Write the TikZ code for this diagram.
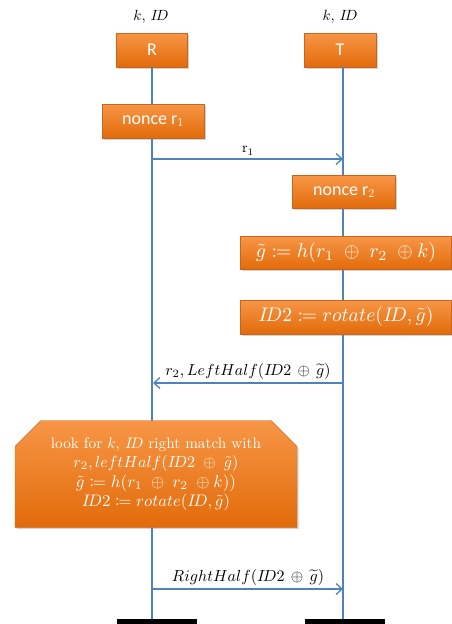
\documentclass[tikz,border=0pt]{standalone}
\usepackage{amsmath}
\usepackage{mathtools}
\usepackage{graphicx}
\usepackage{fontspec}
\setsansfont{Carlito}
\usepackage{tikz}
\usetikzlibrary{shapes.misc,arrows.meta,positioning,shadows}

\definecolor{boxtop}{RGB}{247,150,70}
\definecolor{boxbot}{RGB}{226,107,10}
\definecolor{boxedge}{RGB}{200,100,30}
\definecolor{lineblue}{RGB}{79,129,189}

% text stretched to a given width (pt)
\newcommand{\wfit}[2]{\resizebox{#1pt}{!}{#2}}

\begin{document}
\begin{tikzpicture}[x=1pt, y=-1pt,
    orangebox/.style={rectangle, draw=boxedge, top color=boxtop, bottom color=boxbot, text=white, drop shadow={opacity=0.35, shadow xshift=1.5pt, shadow yshift=-1.5pt}},
    lifeline/.style={draw=lineblue, line width=1.3pt},
    msg/.style={draw=lineblue, line width=1.3pt, -{Straight Barb[length=6pt, width=11pt]}},
    sansbig/.style={font=\sffamily\fontsize{18}{20}\selectfont}]
    \useasboundingbox (0,0) rectangle (452,624);

    % Parties
    \node (kidR) at (151,17) {\wfit{35}{$k$, $I\!D$}};
    \node (kidT) at (340,17) {\wfit{35}{$k$, $I\!D$}};
    \node (R) at (152,50) [orangebox, sansbig, minimum width=71, minimum height=34] {R};
    \node (T) at (340,50) [orangebox, sansbig, minimum width=72, minimum height=34] {T};

    % Bottom bars
    \node (endR) at (157,622) [rectangle, fill=black, minimum width=80, minimum height=6, inner sep=0pt] {};
    \node (endT) at (345,622) [rectangle, fill=black, minimum width=80, minimum height=6, inner sep=0pt] {};

    % Lifelines
    \coordinate (lR) at (153,619);
    \coordinate (lT) at (343,619);
    \draw [lifeline] (R.south) -- (R.south |- lR);
    \draw [lifeline] (T.south -| lT) -- (lT);

    % Reader side
    \node (n1) at (153,121) [orangebox, sansbig, minimum width=102, minimum height=34] {nonce r$_1$};

    % Tag side
    \node (n2) at (344,192) [orangebox, sansbig, minimum width=103, minimum height=33] {nonce r$_2$};
    \node (gt) at (346,253) [orangebox, minimum width=211, minimum height=33] {\wfit{180}{$\tilde{g} \coloneqq h(r_1 \;\oplus\; r_2 \;\oplus k)$}};
    \node (id2) at (346,317) [orangebox, minimum width=211, minimum height=34] {\wfit{175}{$I\!D2 \coloneqq rotate(I\!D,\tilde{g})$}};

    % Messages
    \coordinate (m1R) at (153,159);
    \coordinate (m1T) at (343,159);
    \draw [msg] (m1R) -- node [above] {\wfit{12}{$\mathrm{r}_1$}} (m1T);

    \coordinate (m2T) at (343,383);
    \coordinate (m2R) at (153,383);
    \draw [msg] (m2T) -- node [above] {\wfit{165}{$r_2, LeftHalf(I\!D2 \,\oplus\, \widetilde{g})$}} (m2R);

    % Reader check
    \node (chk) at (156,474) [chamfered rectangle, chamfered rectangle corners={north west, north east}, chamfered rectangle sep=13pt,
        draw=boxedge, top color=boxtop, bottom color=boxbot, text=white, drop shadow={opacity=0.35, shadow xshift=1.5pt, shadow yshift=-1.5pt},
        minimum width=282, minimum height=107, align=center, font=\fontsize{10}{19.5}\selectfont]
        {\wfit{210}{look for $k$, $I\!D$ right match with}\\
         \wfit{165}{$r_2, leftHalf(I\!D2 \;\oplus\; \tilde{g})$}\\
         \wfit{160}{$\tilde{g} \coloneqq h(r_1 \;\oplus\; r_2 \;\oplus k))$}\\
         \wfit{148}{$I\!D2 \coloneqq rotate(I\!D,\tilde{g})$}};

    \coordinate (m3R) at (153,589);
    \coordinate (m3T) at (343,589);
    \draw [msg] (m3R) -- node [above] {\wfit{152}{$RightHalf(I\!D2 \,\oplus\, \widetilde{g})$}} (m3T);
\end{tikzpicture}
\end{document}
